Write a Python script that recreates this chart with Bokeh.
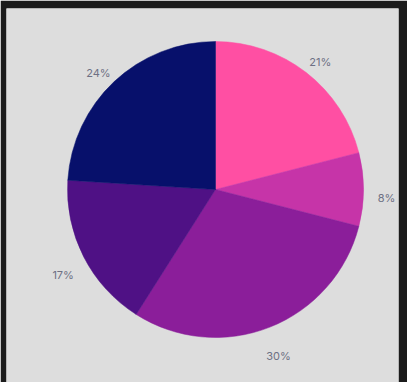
import math
from bokeh.plotting import figure
from bokeh.models import Range1d, ColumnDataSource
from bokeh.core.properties import value
from bokeh.embed import file_html
from bokeh.resources import INLINE

# Data
categories = ["A", "B", "C", "D", "E"]
values = [21, 8, 30, 17, 24]
labels = ["21%", "8%", "30%", "17%", "24%"]
colors = ["#FF4FA3", "#C634A8", "#8B1E9A", "#4F1185", "#07106B"]

R = 148.0
LABEL_R = 171.0

total = float(sum(values))
starts, ends, lx, ly = [], [], [], []
cum = 0.0
for v in values:
    a0 = cum / total * 2 * math.pi
    cum += v
    a1 = cum / total * 2 * math.pi
    starts.append(math.pi / 2 - a0)
    ends.append(math.pi / 2 - a1)
    mid = (a0 + a1) / 2
    lx.append(LABEL_R * math.sin(mid))
    ly.append(LABEL_R * math.cos(mid))

src = ColumnDataSource(dict(cat=categories, start=starts, end=ends, color=colors,
                            lx=lx, ly=ly, label=labels))

p = figure(width=407, height=382, output_backend="svg", toolbar_location=None,
           x_range=Range1d(-209, 183), y_range=Range1d(-193, 181),
           min_border_left=6, min_border_right=9, min_border_top=8, min_border_bottom=0)
p.border_fill_color = "#1b1b1b"
p.background_fill_color = "#dddddd"
p.outline_line_color = None
p.axis.visible = False
p.grid.visible = False

p.wedge(x=0, y=0, radius=R, start_angle="start", end_angle="end", direction="clock",
        fill_color="color", line_color="color", line_width=0.5, source=src)

p.text(x="lx", y="ly", text="label", source=src, text_align="center", text_baseline="middle",
       y_offset=8, text_color="#6d7084", text_font=value("Inter"), text_font_size="11px")

open("out.html", "w").write(file_html(p, INLINE))
